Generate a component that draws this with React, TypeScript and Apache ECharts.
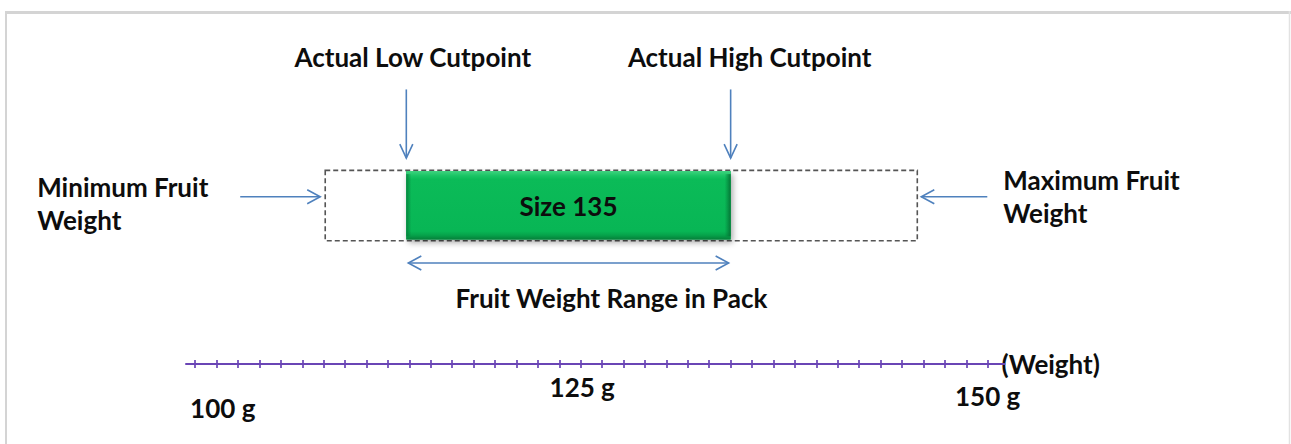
import React, { useEffect, useRef } from "react";
import * as echarts from "echarts";

// ---------------- data ----------------
const weightLabels = [100, 125, 150]; // labelled weights on the axis (g)
const tickStart = 98.2; // first small tick (g)
const tickStep = 1.4; // spacing of the small ticks (g)
const tickCount = 38;
const axisMinWeight = 97.6;
const axisMaxWeight = 151.1;

const packLabels = ["Size 135"];
const minimumFruitWeight = [106.7];
const maximumFruitWeight = [145.4];
const actualLowCutpoint = [112.0];
const actualHighCutpoint = [133.2];

// ---------------- layout / style ----------------
const AXIS = "#6a45b5";
const ARROW = "#4f81bd";
const TEXT = "#0d0d0d";
const FONT = "Lato, 'Open Sans', 'DejaVu Sans', sans-serif";
const FS = 26;

// vertical levels on a hidden 0..100 axis
const LV = {
  boxTop: 55,
  boxBottom: 35,
  barTop: 54.8,
  barBottom: 35.4,
  sideArrow: 47.5,
  downTop: 78,
  downTip: 58.5,
  range: 28.7,
};

const tickValues = Array.from({ length: tickCount }, (_, i) =>
  Math.round((tickStart + i * tickStep) * 100) / 100
);

function txt(x: number, y: number, text: string, align = "center", extra: any = {}) {
  return {
    type: "text",
    x,
    y,
    style: {
      text,
      fill: TEXT,
      fontSize: FS,
      fontFamily: FONT,
      fontWeight: "bold",
      align,
      verticalAlign: "middle",
      ...extra,
    },
  };
}

function line(x1: number, y1: number, x2: number, y2: number) {
  return {
    type: "line",
    shape: { x1, y1, x2, y2 },
    style: { stroke: ARROW, lineWidth: 1.6 },
  };
}

function head(points: number[][]) {
  return {
    type: "polyline",
    shape: { points },
    style: { stroke: ARROW, lineWidth: 1.6, fill: "none" },
  };
}

export default function App() {
  const ref = useRef<HTMLDivElement>(null);

  useEffect(() => {
    if (!ref.current) return;
    const chart = echarts.init(ref.current, undefined, { renderer: "svg" });

    const packData = packLabels.map((label, i) => [
      minimumFruitWeight[i],
      maximumFruitWeight[i],
      actualLowCutpoint[i],
      actualHighCutpoint[i],
      label,
    ]);

    const renderPack = (params: any, api: any) => {
      const mn = api.value(0);
      const mx = api.value(1);
      const lo = api.value(2);
      const hi = api.value(3);
      const label = packLabels[params.dataIndex];
      const [xMin, yBoxTop] = api.coord([mn, LV.boxTop]);
      const [xMax, yBoxBot] = api.coord([mx, LV.boxBottom]);
      const [xLo, yBarTop] = api.coord([lo, LV.barTop]);
      const [xHi, yBarBot] = api.coord([hi, LV.barBottom]);
      const [, ySide] = api.coord([mn, LV.sideArrow]);
      const [, yDownTop] = api.coord([lo, LV.downTop]);
      const [, yDownTip] = api.coord([lo, LV.downTip]);
      const [, yRange] = api.coord([lo, LV.range]);
      const w = xHi - xLo;
      const h = yBarBot - yBarTop;

      const children: any[] = [];
      // dashed range box (min..max fruit weight)
      children.push({
        type: "rect",
        shape: { x: xMin, y: yBoxTop, width: xMax - xMin, height: yBoxBot - yBoxTop },
        style: { fill: "none", stroke: "#555555", lineWidth: 1.6, lineDash: [5, 3] },
      });
      // green pack bar with bevel look
      children.push({
        type: "rect",
        shape: { x: xLo, y: yBarTop, width: w, height: h },
        style: {
          fill: "#079a47",
          shadowBlur: 6,
          shadowOffsetX: 2,
          shadowOffsetY: 3,
          shadowColor: "rgba(0,0,0,0.35)",
        },
      });
      children.push({
        type: "rect",
        shape: { x: xLo, y: yBarTop, width: w, height: h },
        style: {
          fill: new echarts.graphic.LinearGradient(0, 0, 0, 1, [
            { offset: 0, color: "#3fd37f" },
            { offset: 0.07, color: "#19c464" },
            { offset: 0.12, color: "#0bbb58" },
            { offset: 0.88, color: "#08b655" },
            { offset: 0.94, color: "#06a24a" },
            { offset: 1, color: "#05803a" },
          ]),
        },
      });
      children.push({
        type: "rect",
        shape: { x: xLo, y: yBarTop + 3, width: 5, height: h - 6 },
        style: {
          fill: new echarts.graphic.LinearGradient(0, 0, 1, 0, [
            { offset: 0, color: "rgba(4,120,55,0.8)" },
            { offset: 1, color: "rgba(4,120,55,0)" },
          ]),
        },
      });
      children.push({
        type: "rect",
        shape: { x: xHi - 6, y: yBarTop + 3, width: 6, height: h - 6 },
        style: {
          fill: new echarts.graphic.LinearGradient(0, 0, 1, 0, [
            { offset: 0, color: "rgba(4,120,55,0)" },
            { offset: 1, color: "rgba(4,110,50,0.9)" },
          ]),
        },
      });
      children.push(txt((xLo + xHi) / 2, (yBarTop + yBarBot) / 2 + 1, label));

      // down arrows with labels
      [
        [xLo, "Actual Low Cutpoint", 6.5],
        [xHi, "Actual High Cutpoint", 19],
      ].forEach(([x, t, off]: any) => {
        children.push(line(x, yDownTop, x, yDownTip));
        children.push(head([[x - 6.5, yDownTip - 14], [x, yDownTip], [x + 6.5, yDownTip - 14]]));
        children.push(txt(x + off, yDownTop - 32, t));
      });

      // minimum fruit weight arrow
      const minTip = xMin - 5;
      children.push(line(xMin - 85, ySide, minTip, ySide));
      children.push(head([[minTip - 13, ySide - 7], [minTip, ySide], [minTip - 13, ySide + 7]]));
      children.push(txt(xMin - 288, ySide + 7, "Minimum Fruit\nWeight", "left", { lineHeight: 33 }));

      // maximum fruit weight arrow
      const maxTip = xMax + 4;
      children.push(line(maxTip, ySide, xMax + 70, ySide));
      children.push(head([[maxTip + 13, ySide - 7], [maxTip, ySide], [maxTip + 13, ySide + 7]]));
      children.push(txt(xMax + 86, ySide, "Maximum Fruit\nWeight", "left", { lineHeight: 33 }));

      // fruit weight range double arrow
      const r1 = xLo + 2;
      const r2 = xHi - 2;
      children.push(line(r1, yRange, r2, yRange));
      children.push(head([[r1 + 13, yRange - 7], [r1, yRange], [r1 + 13, yRange + 7]]));
      children.push(head([[r2 - 13, yRange - 7], [r2, yRange], [r2 - 13, yRange + 7]]));
      children.push(txt((xLo + xHi) / 2 + 43, yRange + 35, "Fruit Weight Range in Pack"));

      return { type: "group", children };
    };

    const labelStyle = { fontFamily: FONT, fontSize: FS, fontWeight: "bold", color: TEXT };

    const option: any = {
      animation: false,
      backgroundColor: "#ffffff",
      grid: { left: 186, width: 818.5, top: 12, bottom: 80, containLabel: false },
      xAxis: [
        {
          type: "value",
          min: axisMinWeight,
          max: axisMaxWeight,
          position: "bottom",
          axisLine: { show: true, lineStyle: { color: AXIS, width: 2 } },
          axisTick: {
            show: true,
            inside: false,
            length: 4,
            customValues: tickValues,
            lineStyle: { color: AXIS, width: 1.7 },
          },
          axisLabel: {
            show: true,
            customValues: weightLabels,
            margin: 10,
            ...labelStyle,
            formatter: (v: number) => {
              const key = v === weightLabels[0] ? "a" : v === weightLabels[1] ? "b" : "c";
              return `{${key}|${v} g}`;
            },
            rich: {
              a: { ...labelStyle, padding: [21, 0, 0, 0] },
              b: { ...labelStyle, padding: [0, 46, 0, 0] },
              c: { ...labelStyle, padding: [9, 0, 0, 0] },
            },
          },
          splitLine: { show: false },
          name: "(Weight)",
          nameLocation: "end",
          nameGap: -3,
          nameTextStyle: { ...labelStyle, verticalAlign: "middle", padding: [0, 0, 2, 0] },
        },
        {
          type: "value",
          min: axisMinWeight,
          max: axisMaxWeight,
          position: "bottom",
          axisLine: { show: false },
          axisTick: {
            show: true,
            inside: true,
            length: 4,
            customValues: tickValues,
            lineStyle: { color: AXIS, width: 1.7 },
          },
          axisLabel: { show: false },
          splitLine: { show: false },
        },
      ],
      yAxis: { type: "value", min: 0, max: 100, show: false },
      graphic: [
        { type: "line", shape: { x1: 5, y1: 12.5, x2: 1291, y2: 12.5 }, style: { stroke: "#d4d4d4", lineWidth: 3 } },
        { type: "line", shape: { x1: 6, y1: 11, x2: 6, y2: 444 }, style: { stroke: "#d4d4d4", lineWidth: 2 } },
        { type: "line", shape: { x1: 1289.5, y1: 11, x2: 1289.5, y2: 444 }, style: { stroke: "#e2e2e2", lineWidth: 1.5 } },
      ],
      series: [
        {
          type: "custom",
          name: "Pack",
          coordinateSystem: "cartesian2d",
          xAxisIndex: 0,
          yAxisIndex: 0,
          clip: false,
          renderItem: renderPack,
          encode: { x: [0, 1, 2, 3] },
          data: packData,
        },
      ],
    };

    chart.setOption(option);
    return () => chart.dispose();
  }, []);

  return (
    <div
      ref={ref}
      style={{ position: "fixed", left: 0, top: 0, width: 1291, height: 444, background: "#fff" }}
    />
  );
}
